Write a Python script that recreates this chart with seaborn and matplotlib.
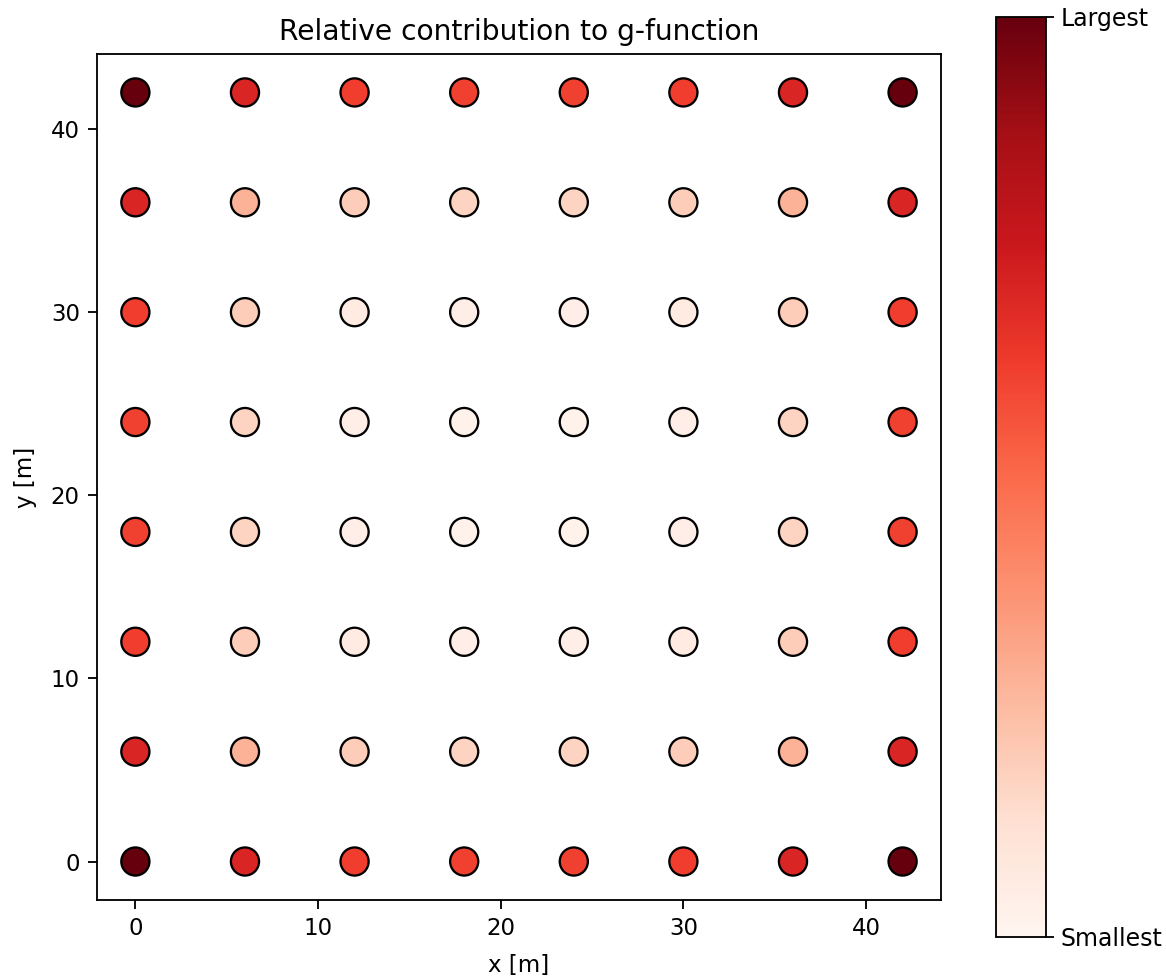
import matplotlib
matplotlib.use('Agg')
import matplotlib.pyplot as plt
import seaborn as sns
import numpy as np
import pandas as pd

# borehole positions [m]
x_pos = [0, 6, 12, 18, 24, 30, 36, 42]
y_pos = [0, 6, 12, 18, 24, 30, 36, 42]

# relative contribution, rows from y=0 up to y=42
contrib = [
    [1.00, 0.70, 0.62, 0.61, 0.61, 0.62, 0.70, 1.00],
    [0.70, 0.28, 0.19, 0.17, 0.17, 0.19, 0.28, 0.70],
    [0.62, 0.19, 0.06, 0.04, 0.04, 0.06, 0.19, 0.62],
    [0.61, 0.17, 0.04, 0.02, 0.02, 0.04, 0.17, 0.61],
    [0.61, 0.17, 0.04, 0.02, 0.02, 0.04, 0.17, 0.61],
    [0.62, 0.19, 0.06, 0.04, 0.04, 0.06, 0.19, 0.62],
    [0.70, 0.28, 0.19, 0.17, 0.17, 0.19, 0.28, 0.70],
    [1.00, 0.70, 0.62, 0.61, 0.61, 0.62, 0.70, 1.00],
]

rows = []
for i, y in enumerate(y_pos):
    for j, x in enumerate(x_pos):
        rows.append({'x': x, 'y': y, 'c': contrib[i][j]})
df = pd.DataFrame(rows)

k = 1.65  # overall scale of the original rendering

fig = plt.figure(figsize=(11.66, 9.76), dpi=100)
ax = fig.add_axes([0.0832, 0.0779, 0.7238, 0.8668])
sns.scatterplot(data=df, x='x', y='y', hue='c', palette='Reds', hue_norm=(0, 1),
                s=410, edgecolor='black', linewidth=1.0 * k, legend=False, ax=ax)
ax.set_xlim(-2.1, 44.1)
ax.set_ylim(-2.1, 44.1)
ax.set_xticks([0, 10, 20, 30, 40])
ax.set_yticks([0, 10, 20, 30, 40])
ax.set_xlabel('x [m]', fontsize=10 * k, labelpad=6 * k)
ax.set_ylabel('y [m]', fontsize=10 * k, labelpad=6 * k)
ax.tick_params(labelsize=10 * k, length=4 * k, width=0.8 * k, pad=3.5 * k)
ax.set_title('Relative contribution to g-function', fontsize=12.3 * k, pad=6 * k)
for s in ax.spines.values():
    s.set_linewidth(0.8 * k)

cax = fig.add_axes([0.854, 0.040, 0.043, 0.943])
sm = plt.cm.ScalarMappable(cmap='Reds', norm=plt.Normalize(0, 1))
cb = fig.colorbar(sm, cax=cax, ticks=[0, 1])
cb.ax.set_yticklabels(['Smallest', 'Largest'], fontsize=10.3 * k)
cb.ax.tick_params(length=3.5 * k, width=0.8 * k, pad=3 * k)
cb.outline.set_linewidth(0.8 * k)

fig.savefig('out.png', dpi=100)
